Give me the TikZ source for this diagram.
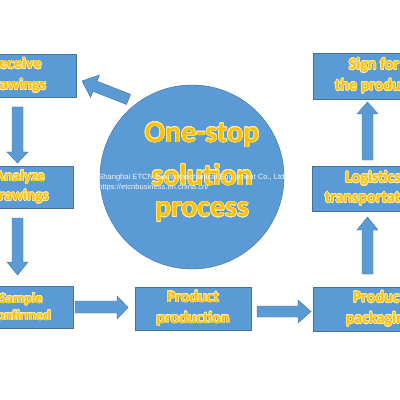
\documentclass[tikz,border=0pt]{standalone}
\usepackage{fontspec}
\setmainfont{Carlito}
\newfontfamily\wmfont{Liberation Sans}
\usepackage{contour}
\contourlength{0.45pt}
\contournumber{16}
\definecolor{boxblue}{HTML}{5B9BD5}
\definecolor{edgeblue}{HTML}{41719C}
\definecolor{gold}{HTML}{FFC000}
\definecolor{glow}{HTML}{FFEBA8}
\newcommand{\gl}[1]{\contour{glow}{#1}}
\tikzset{
  stepbox/.style={rectangle, fill=boxblue, draw=edgeblue, line width=0.3pt,
    inner sep=0pt, align=center, text=gold, font=\bfseries\fontsize{11.4}{14.9}\selectfont},
  blockarrow/.style={fill=boxblue, draw=edgeblue, line width=0.3pt, line join=miter},
  bigtext/.style={text=gold, font=\bfseries\fontsize{21.3}{26}\selectfont, inner sep=0pt},
  wmtext/.style={text=white, opacity=0.9, font=\wmfont\fontsize{5.4}{6}\selectfont, inner sep=0pt, anchor=west},
}
\begin{document}
\begin{tikzpicture}[x=0.025cm, y=-0.025cm]
\useasboundingbox (0,0) rectangle (400,400);
\clip (0,0) rectangle (400,400);
\fill[white] (0,0) rectangle (400,400);

% boxes
\node[stepbox, minimum width=30mm, minimum height=10.75mm] (receive) at (16,75.5) {\gl{Receive}\\\gl{drawings}};
\node[stepbox, minimum width=26.5mm, minimum height=10.5mm, font=\bfseries\fontsize{10.9}{13.8}\selectfont] (analyze) at (20,187) {\gl{Analyze}\\\gl{drawings}};
\node[stepbox, minimum width=26mm, minimum height=10.5mm, font=\bfseries\fontsize{10}{12.1}\selectfont] (sample) at (21,307) {\gl{Sample}\\\gl{confirmed}};
\node[stepbox, minimum width=29mm, minimum height=10.75mm] (production) at (193,308.5) {\gl{Product}\\\gl{production}};
\node[stepbox, minimum width=33mm, minimum height=11mm] (packaging) at (379,309) {\gl{Product}\\\gl{packaging}};
\node[stepbox, minimum width=30.5mm, minimum height=11.25mm, font=\bfseries\fontsize{11.4}{14.2}\selectfont] (logistics) at (373,188.5) {\gl{Logistics}\\\gl{transportation}};
\node[stepbox, minimum width=30.5mm, minimum height=11.5mm] (sign) at (374,76) {\gl{Sign for}\\\gl{the product}};

% block arrows
\filldraw[blockarrow] (12,107) -- (23,107) -- (23,152) -- (28,152) -- (17.5,163) -- (7,152) -- (12,152) -- cycle;
\filldraw[blockarrow] (12,218) -- (23,218) -- (23,262) -- (28,262) -- (17.5,275) -- (7,262) -- (12,262) -- cycle;
\filldraw[blockarrow] (75,301) -- (117,301) -- (117,296) -- (128,307.5) -- (117,319) -- (117,313) -- (75,313) -- cycle;
\filldraw[blockarrow] (257,306) -- (298,306) -- (298,300) -- (311,311.5) -- (298,323) -- (298,317) -- (257,317) -- cycle;
\filldraw[blockarrow] (362,274) -- (373,274) -- (373,230) -- (378,230) -- (367.5,217) -- (357,230) -- (362,230) -- cycle;
\filldraw[blockarrow] (362,160) -- (373,160) -- (373,114) -- (378,114) -- (367.5,102) -- (357,114) -- (362,114) -- cycle;
\filldraw[blockarrow] (82,81) -- (99.4,75.0) -- (97.0,81.2) -- (130.5,94.3) -- (126.5,104.5) -- (93.0,91.3) -- (90.6,97.4) -- cycle;

% circle
\node[circle, fill=boxblue, draw=edgeblue, line width=0.3pt, minimum size=46mm, inner sep=0pt] (hub) at (192,177) {};
\node[bigtext] (t1) at (202,135) {\gl{One-stop}};
\node[bigtext] (t2) at (202,175) {\gl{solution}};
\node[bigtext] (t3) at (202,212) {\gl{process}};

% watermark
\node[wmtext] (wm1) at (98,178) {Shanghai ETCN Electromechanical Equipment Co., Ltd.};
\node[wmtext] (wm2) at (98,188) {https://etcnbusiness.en.china.cn/};
\end{tikzpicture}
\end{document}
